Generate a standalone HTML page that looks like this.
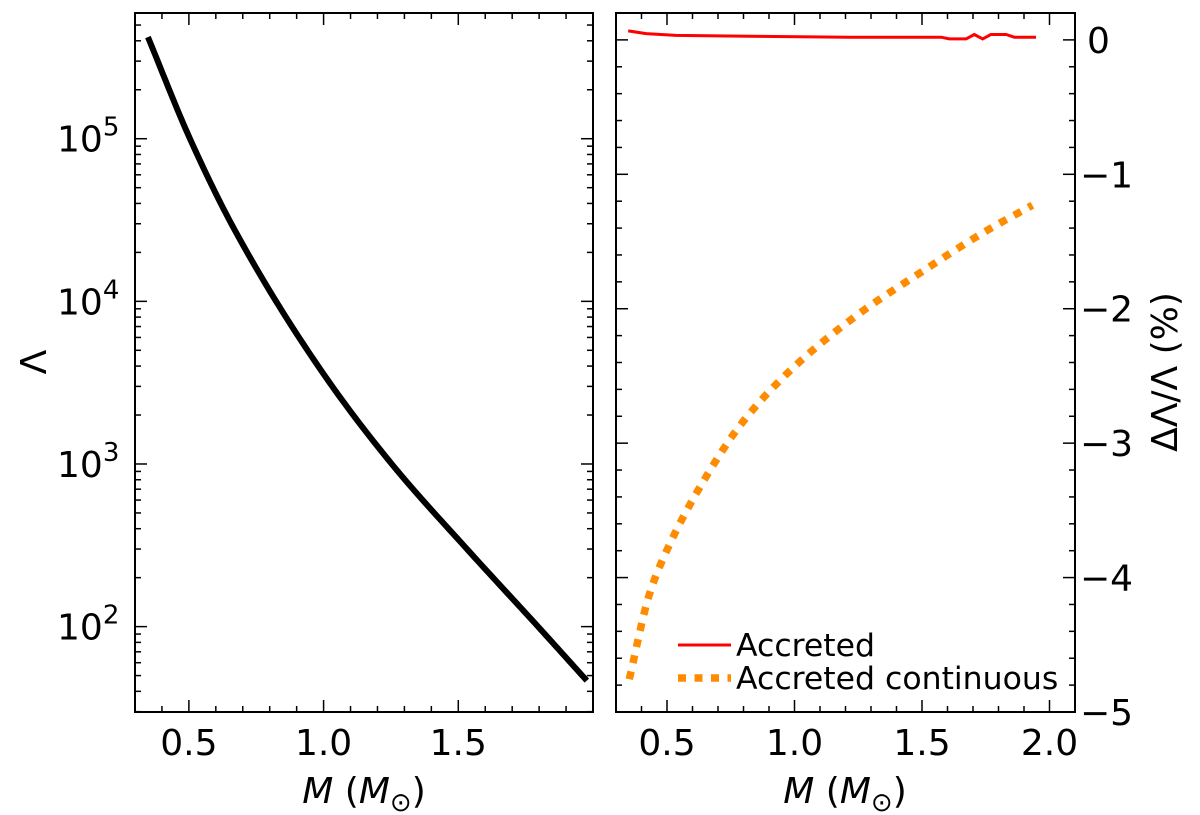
<!DOCTYPE html>
<html><head><meta charset="utf-8"><style>
body{margin:0;background:#fff}
svg text{font-family:"DejaVu Sans","Liberation Sans",sans-serif;fill:#000}
</style></head><body>
<svg id="c" width="1200" height="815" viewBox="0 0 1200 815" xmlns="http://www.w3.org/2000/svg" style="position:absolute;left:0;top:0"></svg>
<script>
// Left panel data: mass vs log10(Lambda)
const leftMass = [0.348,0.504,0.671,0.993,1.253,1.536,1.796,1.977];
const leftLogLambda = [5.625,5.0,4.436,3.57,3.0,2.47,2.0,1.668];
const leftXTicks = [0.5,1.0,1.5];
const leftYTicks = [2,3,4,5];
// Right panel data
const redMass = [0.348,0.418,0.535,0.823,1.215,1.575,1.607,1.673,1.705,1.738,1.77,1.83,1.862,1.947];
const redDelta = [0.067,0.047,0.033,0.027,0.02,0.02,0.007,0.007,0.04,0.007,0.04,0.04,0.02,0.02];
const orangeMass = [0.352,0.431,0.509,0.64,0.79,0.973,1.235,1.509,1.744,1.933];
const orangeDelta = [-4.756,-4.124,-3.758,-3.292,-2.86,-2.478,-2.062,-1.713,-1.43,-1.23];
const rightXTicks = [0.5,1.0,1.5,2.0];
const rightYTicks = [0,-1,-2,-3,-4,-5];

const NS="http://www.w3.org/2000/svg";
const svg=document.getElementById('c');
function mk(tag,attrs,parent){const e=document.createElementNS(NS,tag);for(const k in attrs)e.setAttribute(k,attrs[k]);(parent||svg).appendChild(e);return e;}

const L={x0:135,x1:593,y0:13,y1:712};
const lx=m=>L.x0+(m-0.3)/(2.0-0.3)*(L.x1-L.x0);
const ly=v=>L.y1-(v-1.475)/(5.773-1.475)*(L.y1-L.y0);
const R={x0:616,x1:1075,y0:13,y1:712};
const rx=m=>R.x0+(m-0.3)/(2.1-0.3)*(R.x1-R.x0);
const ry=v=>R.y1-(v+5)/(0.2+5)*(R.y1-R.y0);

function tick(x1,y1,x2,y2){const t=mk('line',{x1,y1,x2,y2,stroke:'#000','stroke-width':1.5});}

for(let m=0.3;m<=2.001;m+=0.1){const x=lx(m);const major=leftXTicks.some(t=>Math.abs(t-m)<1e-6);const len=major?12:6;tick(x,L.y1,x,L.y1-len);tick(x,L.y0,x,L.y0+len);}
for(let d=1;d<=5;d++){for(let k=1;k<=9;k++){const v=d+Math.log10(k);if(v<1.475||v>5.773)continue;const y=ly(v);const len=k===1?12:6;tick(L.x0,y,L.x0+len,y);tick(L.x1,y,L.x1-len,y);}}
leftXTicks.forEach(m=>{const t=mk('text',{x:lx(m),y:755,'font-size':36,'text-anchor':'middle'});t.textContent=m.toFixed(1);});
leftYTicks.forEach(v=>{const t=mk('text',{x:57,y:ly(v)+13,'font-size':36});t.innerHTML='10<tspan dy="-16" font-size="26">'+v+'</tspan>';});

for(let m=0.3;m<=2.101;m+=0.1){const x=rx(m);const major=rightXTicks.some(t=>Math.abs(t-m)<1e-6);const len=major?12:6;tick(x,R.y1,x,R.y1-len);tick(x,R.y0,x,R.y0+len);}
for(let v=-5;v<=0.2;v+=0.2){const y=ry(v);const major=Math.abs(v-Math.round(v))<1e-6;const len=major?12:6;tick(R.x0,y,R.x0+len,y);tick(R.x1,y,R.x1-len,y);}
rightXTicks.forEach(m=>{const t=mk('text',{x:rx(m),y:755,'font-size':36,'text-anchor':'middle'});t.textContent=m.toFixed(1);});
rightYTicks.forEach(v=>{const t=mk('text',{x:v===0?1087:1080,y:ry(v)+13,'font-size':36});t.textContent=v===0?'0':'\u2212'+Math.abs(v);});

// monotone cubic (Fritsch-Carlson) in data space, sampled densely
function mono(xs,ys,fx,fy){const n=xs.length,d=[],m=[];
for(let i=0;i<n-1;i++)d.push((ys[i+1]-ys[i])/(xs[i+1]-xs[i]));
m[0]=d[0];m[n-1]=d[n-2];
for(let i=1;i<n-1;i++){if(d[i-1]*d[i]<=0)m[i]=0;else{const w1=2*(xs[i+1]-xs[i])+(xs[i]-xs[i-1]),w2=(xs[i+1]-xs[i])+2*(xs[i]-xs[i-1]);m[i]=(w1+w2)/(w1/d[i-1]+w2/d[i]);}}
let s='';
for(let i=0;i<n-1;i++){const h=xs[i+1]-xs[i];for(let k=(i?1:0);k<=20;k++){const t=k/20,t2=t*t,t3=t2*t;
const y=(2*t3-3*t2+1)*ys[i]+(t3-2*t2+t)*h*m[i]+(-2*t3+3*t2)*ys[i+1]+(t3-t2)*h*m[i+1];
const x=xs[i]+t*h;s+=(s?'L':'M')+fx(x).toFixed(2)+','+fy(y).toFixed(2);}}
return s;}
function poly(xs,ys,fx,fy){return xs.map((m,i)=>(i?'L':'M')+fx(m).toFixed(1)+','+fy(ys[i]).toFixed(1)).join('');}
const black=mk('path',{d:mono(leftMass,leftLogLambda,lx,ly),fill:'none',stroke:'#000','stroke-width':6});

const red=mk('path',{d:poly(redMass,redDelta,rx,ry),fill:'none',stroke:'#ff0000','stroke-width':3});

const orng=mk('path',{d:mono(orangeMass,orangeDelta,rx,ry),fill:'none',stroke:'#ff8c00','stroke-width':7.5,'stroke-dasharray':'8,8.5'});


const f1=mk('rect',{x:L.x0,y:L.y0,width:L.x1-L.x0,height:L.y1-L.y0,fill:'none',stroke:'#000','stroke-width':2});

const f2=mk('rect',{x:R.x0,y:R.y0,width:R.x1-R.x0,height:R.y1-R.y0,fill:'none',stroke:'#000','stroke-width':2});

</script>
<svg width="1200" height="815" style="position:absolute;left:0;top:0" xmlns="http://www.w3.org/2000/svg">
<g>
<line x1="678" y1="645" x2="731" y2="645" stroke="#ff0000" stroke-width="3"/>
<text x="736" y="656" font-size="31.5">Accreted</text>
<line x1="678" y1="678" x2="731" y2="678" stroke="#ff8c00" stroke-width="7.5" stroke-dasharray="8,8.5"/>
<text x="736" y="689" font-size="31.5">Accreted continuous</text>
</g>
<text x="364" y="803" font-size="36" text-anchor="middle"><tspan font-style="italic">M</tspan> (<tspan font-style="italic">M</tspan><tspan font-size="26" dy="8">⊙</tspan><tspan dy="-8">)</tspan></text>
<text x="845" y="803" font-size="36" text-anchor="middle"><tspan font-style="italic">M</tspan> (<tspan font-style="italic">M</tspan><tspan font-size="26" dy="8">⊙</tspan><tspan dy="-8">)</tspan></text>
<text transform="translate(46,362) rotate(-90)" font-size="36" text-anchor="middle">Λ</text>
<text transform="translate(1177,372) rotate(-90)" font-size="36" text-anchor="middle">ΔΛ/Λ (%)</text>
</svg>
</body></html>
